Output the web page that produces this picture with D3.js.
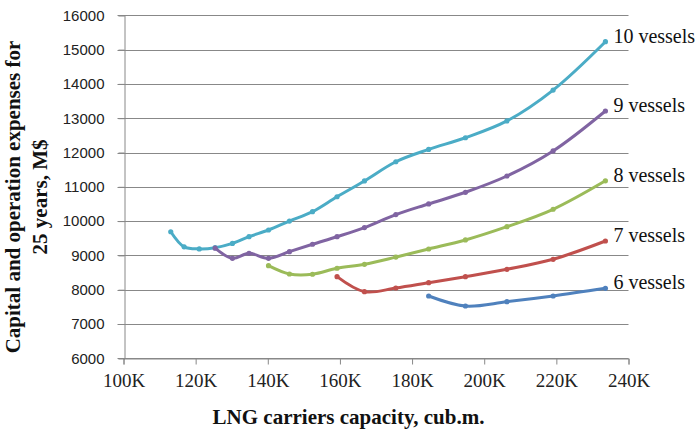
<!DOCTYPE html>
<html>
<head>
<meta charset="utf-8">
<script src="https://d3js.org/d3.v7.min.js"></script>
<style>
  body { margin: 0; background: #fff; }
  svg { display: block; }
</style>
</head>
<body>
<div id="chart"></div>
<script>
// LNG carrier capacity, thousand cub.m.
var capacityK = [113.1, 116.8, 121.0, 125.4, 130.2, 134.8, 140.2, 146.0, 152.4,
                 159.2, 166.8, 175.5, 184.6, 194.8, 206.3, 219.1, 233.6];

// expenses for 25 years, M$ (null = no point for that capacity)
var vessels10 = [9690, 9250, 9190, 9225, 9350, 9545, 9740, 10000, 10275,
                 10710, 11170, 11730, 12090, 12430, 12920, 13820, 15230];
var vessels9  = [null, null, null, 9210, 8915, 9060, 8915, 9110, 9325,
                 9545, 9810, 10190, 10500, 10840, 11315, 12045, 13210];
var vessels8  = [null, null, null, null, null, null, 8700, 8458, 8450,
                 8625, 8740, 8950, 9187, 9450, 9837, 10345, 11175];
var vessels7  = [null, null, null, null, null, null, null, null, null,
                 8380, 7942, 8050, 8205, 8380, 8595, 8886, 9420];
var vessels6  = [null, null, null, null, null, null, null, null, null,
                 null, null, null, 7816, 7525, 7650, 7816, 8040];

var seriesNames = ["10 vessels", "9 vessels", "8 vessels", "7 vessels", "6 vessels"];
var seriesValues = [vessels10, vessels9, vessels8, vessels7, vessels6];
var seriesColors = ["#4BACC6", "#8064A2", "#9BBB59", "#C0504D", "#4F81BD"];

var xTicks = [100, 120, 140, 160, 180, 200, 220, 240];
var yTicks = [6000, 7000, 8000, 9000, 10000, 11000, 12000, 13000, 14000, 15000, 16000];

var W = 696, H = 431;
var plotLeft = 123.5, plotRight = 628.5, plotTop = 15.3, plotBottom = 358.3;

var x = d3.scaleLinear().domain([100, 240]).range([plotLeft, plotRight]);
var y = d3.scaleLinear().domain([6000, 16000]).range([plotBottom, plotTop]);

var svg = d3.select("#chart").append("svg")
    .attr("width", W).attr("height", H);

// horizontal gridlines
svg.append("g")
    .selectAll("line")
    .data(yTicks)
    .enter()
    .append("line")
    .attr("x1", plotLeft - 6)
    .attr("x2", plotRight)
    .attr("y1", function(d) { return Math.round(y(d)) + 0.5; })
    .attr("y2", function(d) { return Math.round(y(d)) + 0.5; })
    .attr("stroke", "#888")
    .attr("stroke-width", 1);

var xAxis = d3.axisBottom(x).tickValues(xTicks)
    .tickFormat(function(d) { return d + "K"; })
    .tickSizeOuter(0).tickSize(6).tickPadding(9);
var yAxis = d3.axisLeft(y).tickValues(yTicks)
    .tickFormat(function(d) { return d; })
    .tickSizeOuter(0).tickSize(6).tickPadding(14);

var gx = svg.append("g")
    .attr("transform", "translate(0," + (Math.round(plotBottom) + 0.5) + ")")
    .call(xAxis);
gx.selectAll("text")
    .style("font-family", "'Liberation Serif', 'Times New Roman', serif")
    .style("font-size", "19px")
    .attr("fill", "#222");

var gy = svg.append("g")
    .attr("transform", "translate(" + (Math.round(plotLeft) + 0.5) + ",0)")
    .call(yAxis);
gy.selectAll("text")
    .style("font-family", "'Liberation Sans', Arial, sans-serif")
    .style("font-size", "15px")
    .attr("fill", "#222");

svg.selectAll(".domain, .tick line").attr("stroke", "#888");

var line = d3.line()
    .x(function(d) { return x(d[0]); })
    .y(function(d) { return y(d[1]); })
    .curve(d3.curveCatmullRom.alpha(0.5));

seriesValues.forEach(function(vals, i) {
  var pts = vals.map(function(v, j) { return [capacityK[j], v]; })
      .filter(function(d) { return d[1] != null; });
  var g = svg.append("g");
  g.append("path")
      .datum(pts)
      .attr("d", line)
      .attr("fill", "none")
      .attr("stroke", seriesColors[i])
      .attr("stroke-width", 3)
      .attr("stroke-linejoin", "round")
      .attr("stroke-linecap", "round");
  g.selectAll("circle")
      .data(pts)
      .enter()
      .append("circle")
      .attr("cx", function(d) { return x(d[0]); })
      .attr("cy", function(d) { return y(d[1]); })
      .attr("r", 2.6)
      .attr("fill", seriesColors[i]);
  var last = pts[pts.length - 1];
  g.append("text")
      .attr("x", x(last[0]) + 8)
      .attr("y", y(last[1]) + 1)
      .style("font-family", "'Liberation Serif', 'Times New Roman', serif")
      .style("font-size", "20px")
      .attr("fill", "#111")
      .text(seriesNames[i]);
});

// axis titles
svg.append("text")
    .attr("transform", "translate(20,197) rotate(-90)")
    .attr("text-anchor", "middle")
    .style("font-family", "'Liberation Serif', 'Times New Roman', serif")
    .style("font-size", "21px")
    .style("font-weight", "bold")
    .attr("fill", "#111")
    .text("Capital and operation expenses for");
svg.append("text")
    .attr("transform", "translate(46.5,197) rotate(-90)")
    .attr("text-anchor", "middle")
    .style("font-family", "'Liberation Serif', 'Times New Roman', serif")
    .style("font-size", "21px")
    .style("font-weight", "bold")
    .attr("fill", "#111")
    .text("25 years, M$");

svg.append("text")
    .attr("x", 348.5)
    .attr("y", 423.5)
    .attr("text-anchor", "middle")
    .style("font-family", "'Liberation Serif', 'Times New Roman', serif")
    .style("font-size", "21px")
    .style("font-weight", "bold")
    .attr("fill", "#111")
    .text("LNG carriers capacity, cub.m.");
</script>
</body>
</html>
